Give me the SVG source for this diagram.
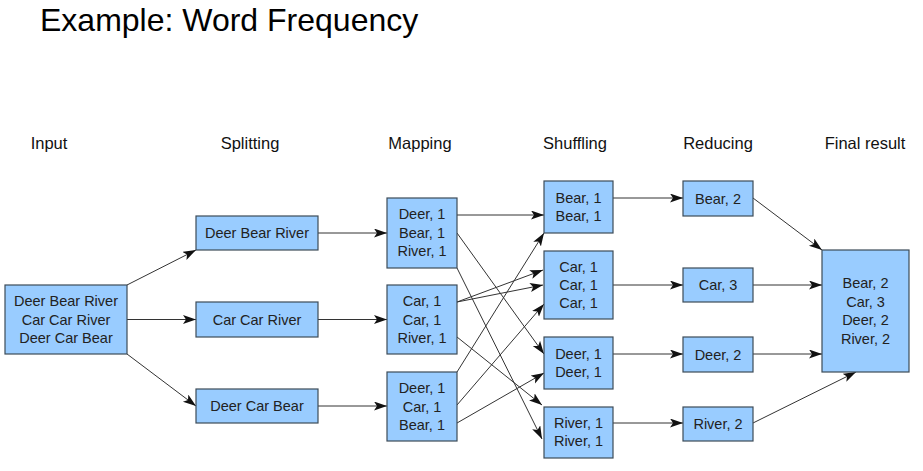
<svg xmlns="http://www.w3.org/2000/svg" width="923" height="471" viewBox="0 0 923 471">
<defs>
<marker id="ah" markerUnits="userSpaceOnUse" markerWidth="14" markerHeight="10" refX="13" refY="4.5" orient="auto">
<path d="M0,0 L13,4.5 L0,9 L3,4.5 Z" fill="#111"/>
</marker>
<style>
.box{fill:#99ccff;stroke:#3d4b58;stroke-width:1.2}
.t{font-family:"Liberation Sans",Arial,sans-serif;font-size:14.5px;fill:#222;text-anchor:middle}
.h{font-family:"Liberation Sans",Arial,sans-serif;font-size:16.5px;fill:#111;text-anchor:middle}
.c line{stroke:#333;stroke-width:1;marker-end:url(#ah)}
</style>
</defs>
<rect width="923" height="471" fill="#fff"/>
<text x="40" y="31" font-family="'Liberation Sans',Arial,sans-serif" font-size="32" fill="#000">Example: Word Frequency</text>
<g id="headers">
<text class="h" x="49" y="149">Input</text>
<text class="h" x="250" y="149">Splitting</text>
<text class="h" x="420" y="149">Mapping</text>
<text class="h" x="575" y="149">Shuffling</text>
<text class="h" x="718" y="149">Reducing</text>
<text class="h" x="865" y="149">Final result</text>
</g>
<g class="c" id="connectors">
<line x1="127" y1="285" x2="196" y2="250"/>
<line x1="127" y1="319.5" x2="196" y2="319.5"/>
<line x1="127" y1="354" x2="196" y2="406"/>
<line x1="318" y1="233" x2="387" y2="233"/>
<line x1="318" y1="319.5" x2="387" y2="319.5"/>
<line x1="318" y1="406" x2="387" y2="406"/>
<line x1="457" y1="215" x2="544" y2="215"/>
<line x1="457" y1="233" x2="544" y2="354"/>
<line x1="457" y1="268" x2="542" y2="439"/>
<line x1="457" y1="302" x2="543" y2="270"/>
<line x1="457" y1="302" x2="543" y2="285"/>
<line x1="457" y1="337" x2="542" y2="405"/>
<line x1="457" y1="372" x2="544" y2="233"/>
<line x1="457" y1="405" x2="544" y2="304"/>
<line x1="457" y1="423" x2="544" y2="373"/>
<line x1="613" y1="198" x2="683" y2="198"/>
<line x1="613" y1="285" x2="683" y2="285"/>
<line x1="613" y1="354" x2="683" y2="354"/>
<line x1="613" y1="423" x2="683" y2="423"/>
<line x1="753" y1="198" x2="822" y2="250"/>
<line x1="753" y1="285" x2="822" y2="285"/>
<line x1="753" y1="354" x2="822" y2="354"/>
<line x1="753" y1="423" x2="856" y2="372"/>
</g>
<g id="input">
<rect class="box" x="5" y="285" width="122" height="69"/>
<text class="t" x="66" y="306">Deer Bear River</text>
<text class="t" x="66" y="324.5">Car Car River</text>
<text class="t" x="66" y="343">Deer Car Bear</text>
</g>
<g id="split1">
<rect class="box" x="196" y="216" width="122" height="34"/>
<text class="t" x="257" y="238">Deer Bear River</text>
</g>
<g id="split2">
<rect class="box" x="196" y="302" width="122" height="35"/>
<text class="t" x="257" y="324.5">Car Car River</text>
</g>
<g id="split3">
<rect class="box" x="196" y="389" width="122" height="34"/>
<text class="t" x="257" y="411">Deer Car Bear</text>
</g>
<g id="map1">
<rect class="box" x="387" y="198" width="70" height="70"/>
<text class="t" x="422" y="219">Deer, 1</text>
<text class="t" x="422" y="237.5">Bear, 1</text>
<text class="t" x="422" y="256">River, 1</text>
</g>
<g id="map2">
<rect class="box" x="387" y="285" width="70" height="69"/>
<text class="t" x="422" y="306">Car, 1</text>
<text class="t" x="422" y="324.5">Car, 1</text>
<text class="t" x="422" y="343">River, 1</text>
</g>
<g id="map3">
<rect class="box" x="387" y="372" width="70" height="69"/>
<text class="t" x="422" y="393">Deer, 1</text>
<text class="t" x="422" y="411.5">Car, 1</text>
<text class="t" x="422" y="430">Bear, 1</text>
</g>
<g id="shuffle-bear">
<rect class="box" x="544" y="181" width="69" height="52"/>
<text class="t" x="578.5" y="203">Bear, 1</text>
<text class="t" x="578.5" y="221">Bear, 1</text>
</g>
<g id="shuffle-car">
<rect class="box" x="544" y="251" width="69" height="68"/>
<text class="t" x="578.5" y="272">Car, 1</text>
<text class="t" x="578.5" y="290">Car, 1</text>
<text class="t" x="578.5" y="308">Car, 1</text>
</g>
<g id="shuffle-deer">
<rect class="box" x="544" y="337" width="69" height="52"/>
<text class="t" x="578.5" y="359">Deer, 1</text>
<text class="t" x="578.5" y="377">Deer, 1</text>
</g>
<g id="shuffle-river">
<rect class="box" x="544" y="407" width="69" height="51"/>
<text class="t" x="578.5" y="428">River, 1</text>
<text class="t" x="578.5" y="446">River, 1</text>
</g>
<g id="reduce-bear">
<rect class="box" x="683" y="181" width="70" height="35"/>
<text class="t" x="718" y="203.5">Bear, 2</text>
</g>
<g id="reduce-car">
<rect class="box" x="683" y="268" width="70" height="34"/>
<text class="t" x="718" y="290">Car, 3</text>
</g>
<g id="reduce-deer">
<rect class="box" x="683" y="337" width="70" height="35"/>
<text class="t" x="718" y="359.5">Deer, 2</text>
</g>
<g id="reduce-river">
<rect class="box" x="683" y="407" width="70" height="34"/>
<text class="t" x="718" y="429">River, 2</text>
</g>
<g id="final">
<rect class="box" x="822" y="250" width="87" height="122"/>
<text class="t" x="865.5" y="288">Bear, 2</text>
<text class="t" x="865.5" y="306.5">Car, 3</text>
<text class="t" x="865.5" y="325">Deer, 2</text>
<text class="t" x="865.5" y="343.5">River, 2</text>
</g>
</svg>
